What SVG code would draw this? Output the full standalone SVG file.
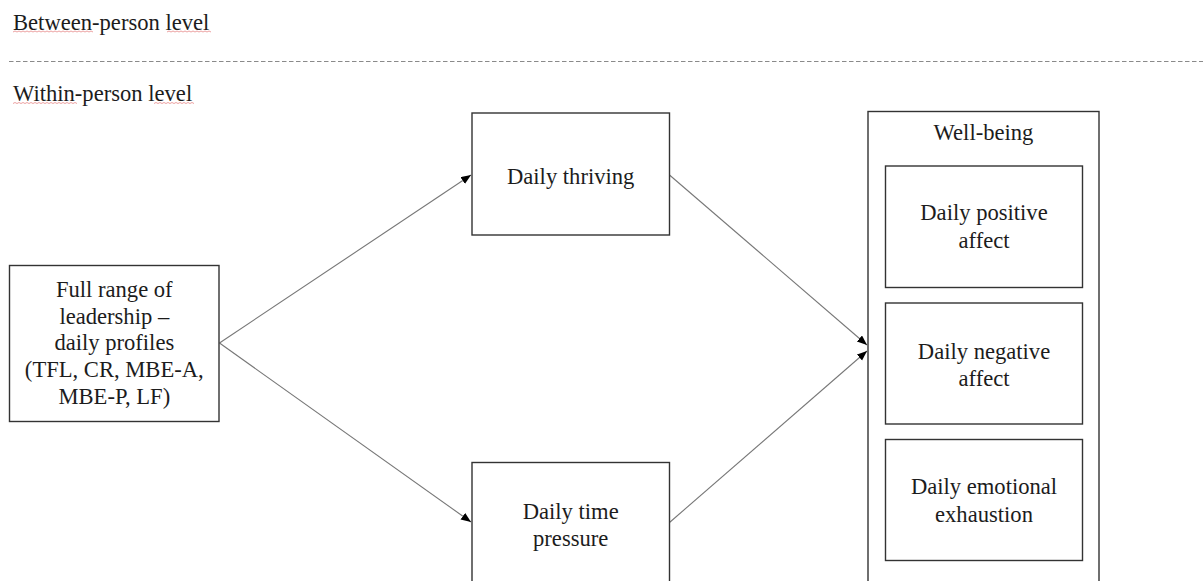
<svg xmlns="http://www.w3.org/2000/svg" width="1203" height="581" viewBox="0 0 1203 581">
<style>
  text { font-family: "Liberation Serif", "Times New Roman", serif; font-size: 22.6px; fill: #1c1c1c; }
  .c { text-anchor: middle; }
  .box { fill: #fff; stroke: #333; stroke-width: 1.4; }
  .edge { stroke: #777; stroke-width: 1.1; fill: none; marker-end: url(#arr); }
  .sq { stroke: #e06a6a; stroke-width: 0.9; fill: none; opacity: 0.7; }
</style>
<defs>
  <marker id="arr" markerUnits="userSpaceOnUse" markerWidth="11" markerHeight="9" refX="10" refY="4" orient="auto">
    <path d="M0,0 L10,4 L0,8 z" fill="#000"/>
  </marker>
</defs>
<rect width="1203" height="581" fill="#fff"/>

<g id="levels">
  <text x="13" y="29.5">Between-person level</text>
  <path class="sq" d="M13,32 l2,-1 l2,1 l2,-1 l2,1 l2,-1 l2,1 l2,-1 l2,1 l2,-1 l2,1 l2,-1 l2,1 l2,-1 l2,1 l2,-1 l2,1 l2,-1 l2,1 l2,-1 l2,1 l2,-1 l2,1 l2,-1 l2,1 l2,-1 l2,1 l2,-1 l2,1 l2,-1 l2,1 l2,-1 l2,1 l2,-1 l2,1 l2,-1 l2,1 l2,-1 l2,1 l2,-1 l2,1"/>
  <path class="sq" d="M167,32 l2,-1 l2,1 l2,-1 l2,1 l2,-1 l2,1 l2,-1 l2,1 l2,-1 l2,1 l2,-1 l2,1 l2,-1 l2,1 l2,-1 l2,1 l2,-1 l2,1 l2,-1 l2,1 l2,-1 l2,1"/>
  <line x1="9" y1="61.5" x2="1203" y2="61.5" stroke="#8a8a8a" stroke-width="1" stroke-dasharray="4.5 2.5"/>
  <text x="13" y="101">Within-person level</text>
  <path class="sq" d="M13,103.5 l2,-1 l2,1 l2,-1 l2,1 l2,-1 l2,1 l2,-1 l2,1 l2,-1 l2,1 l2,-1 l2,1 l2,-1 l2,1 l2,-1 l2,1 l2,-1 l2,1 l2,-1 l2,1 l2,-1 l2,1 l2,-1 l2,1 l2,-1 l2,1 l2,-1 l2,1 l2,-1 l2,1 l2,-1 l2,1"/>
  <path class="sq" d="M154,103.5 l2,-1 l2,1 l2,-1 l2,1 l2,-1 l2,1 l2,-1 l2,1 l2,-1 l2,1 l2,-1 l2,1 l2,-1 l2,1 l2,-1 l2,1 l2,-1 l2,1 l2,-1 l2,1"/>
</g>

<g id="connectors">
  <line class="edge" x1="219.5" y1="343" x2="471" y2="175"/>
  <line class="edge" x1="219.5" y1="343" x2="471" y2="522"/>
  <line class="edge" x1="669.5" y1="175" x2="867" y2="345"/>
  <line class="edge" x1="669.5" y1="522.5" x2="867" y2="351"/>
</g>

<g id="leadership">
  <rect class="box" x="9.5" y="265.5" width="209.5" height="156"/>
  <text class="c" x="114.3" y="297">Full range of</text>
  <text class="c" x="114.3" y="323.7">leadership –</text>
  <text class="c" x="114.3" y="350.4">daily profiles</text>
  <text class="c" x="114.3" y="377.1">(TFL, CR, MBE-A,</text>
  <text class="c" x="114.3" y="403.8">MBE-P, LF)</text>
</g>

<g id="thriving">
  <rect class="box" x="472" y="113" width="197.5" height="122"/>
  <text class="c" x="570.7" y="183.5">Daily thriving</text>
</g>

<g id="time-pressure">
  <rect class="box" x="472" y="462.5" width="197.5" height="130"/>
  <text class="c" x="570.7" y="518.5">Daily time</text>
  <text class="c" x="570.7" y="546">pressure</text>
</g>

<g id="well-being">
  <rect class="box" x="868" y="111.5" width="231" height="480"/>
  <text class="c" x="983.5" y="139.5">Well-being</text>
</g>

<g id="positive-affect">
  <rect class="box" x="885.5" y="166" width="197" height="121.5"/>
  <text class="c" x="984" y="220">Daily positive</text>
  <text class="c" x="984" y="247.5">affect</text>
</g>

<g id="negative-affect">
  <rect class="box" x="885.5" y="303" width="197" height="121"/>
  <text class="c" x="984" y="358.5">Daily negative</text>
  <text class="c" x="984" y="386">affect</text>
</g>

<g id="emotional-exhaustion">
  <rect class="box" x="885.5" y="439.5" width="197" height="121"/>
  <text class="c" x="984" y="494">Daily emotional</text>
  <text class="c" x="984" y="521.5">exhaustion</text>
</g>
</svg>
